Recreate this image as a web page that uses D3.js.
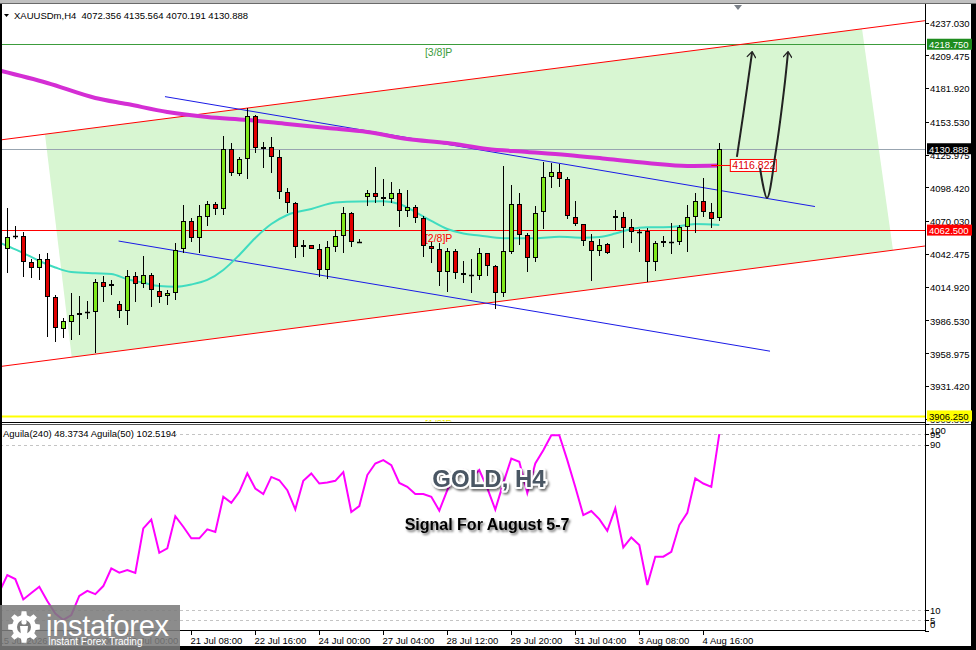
<!DOCTYPE html>
<html>
<head>
<meta charset="utf-8">
<title>XAUUSDm H4</title>
<script src="https://d3js.org/d3.v7.min.js"></script>
<style>
  body { margin: 0; background: #fff; }
  svg { display: block; }
  text { font-family: "Liberation Sans", Arial, sans-serif; }
</style>
</head>
<body>
<div id="chart"></div>
<script>
// ---- values ----
// H4 candles, oldest first
var opens = [4046.4, 4057.5, 4057.5, 4035.4, 4030.4, 4037.9, 4006.5, 3979.6, 3985.5, 3991.1,
  3992.8, 3993.7, 4018.6, 4015.5, 4000.4, 3994.7, 4023.7, 4017.2, 4024.5, 4011.1,
  4006.9, 4009.4, 4046.4, 4070.4, 4055.6, 4073.3, 4084.2, 4080.0, 4130.4, 4109.7,
  4122.0, 4158.4, 4130.9, 4132.6, 4123.7, 4094.3, 4085.0, 4048.0, 4049.7, 4046.4,
  4029.0, 4048.0, 4057.5, 4076.6, 4052.9, 4090.6, 4093.4, 4090.1, 4088.4, 4093.4,
  4078.6, 4082.2, 4072.4, 4049.1, 4046.9, 4027.5, 4045.2, 4026.2, 4024.5, 4024.0,
  4043.0, 4032.3, 4009.4, 4044.3, 4084.4, 4058.1, 4038.8, 4077.5, 4106.9, 4111.6,
  4105.2, 4073.8, 4067.4, 4053.3, 4044.9, 4050.6, 4072.4, 4073.8, 4064.8, 4061.2,
  4061.7, 4035.4, 4051.4, 4052.8, 4052.2, 4064.8, 4073.8, 4087.0, 4077.9, 4072.356];
var highs = [4080.8, 4066.0, 4060.7, 4038.2, 4042.4, 4043.0, 4007.9, 3988.6, 4009.4, 4007.1,
  4002.9, 4021.4, 4023.9, 4020.6, 4002.9, 4029.0, 4027.5, 4040.7, 4026.4, 4018.0,
  4012.1, 4051.4, 4083.6, 4072.4, 4083.6, 4087.0, 4086.4, 4141.6, 4135.5, 4123.9,
  4165.2, 4159.3, 4136.8, 4140.5, 4129.8, 4098.2, 4086.4, 4054.2, 4050.0, 4050.6,
  4053.3, 4062.6, 4081.7, 4077.9, 4054.8, 4096.2, 4115.3, 4105.2, 4103.2, 4096.8,
  4096.2, 4083.6, 4074.4, 4052.8, 4051.4, 4047.2, 4046.4, 4036.8, 4037.9, 4047.2,
  4043.5, 4033.2, 4116.4, 4100.4, 4093.4, 4059.8, 4082.8, 4120.0, 4119.2, 4118.1,
  4107.4, 4087.0, 4067.6, 4059.2, 4055.3, 4051.4, 4079.4, 4077.9, 4071.6, 4063.2,
  4064.0, 4053.3, 4057.5, 4068.7, 4066.8, 4083.6, 4093.4, 4106.0, 4085.0, 4135.564];
var lows = [4026.2, 4054.8, 4023.3, 4022.0, 4020.6, 3972.9, 3968.7, 3971.5, 3970.1, 3974.3,
  3987.5, 3958.9, 4002.3, 4007.9, 3988.4, 3982.7, 4001.8, 4014.1, 3997.6, 4001.0,
  3999.5, 4003.7, 4043.0, 4052.8, 4043.5, 4066.0, 4075.2, 4075.2, 4108.0, 4108.0,
  4105.2, 4127.6, 4115.0, 4110.8, 4088.6, 4076.6, 4039.3, 4040.1, 4046.2, 4022.8,
  4021.1, 4044.3, 4043.5, 4048.5, 4051.4, 4082.8, 4085.0, 4082.8, 4085.5, 4064.9,
  4073.3, 4068.7, 4039.6, 4034.6, 4015.8, 4010.7, 4021.1, 4018.3, 4009.4, 4020.6,
  4024.0, 3995.9, 4006.5, 4042.4, 4050.0, 4027.5, 4035.9, 4063.2, 4097.6, 4098.5,
  4071.6, 4066.0, 4049.1, 4020.0, 4040.7, 4042.4, 4062.6, 4047.2, 4051.9, 4044.3,
  4019.1, 4028.4, 4048.5, 4042.4, 4050.0, 4044.3, 4060.3, 4073.3, 4064.5, 4070.191];
var closes = [4057.0, 4056.7, 4035.4, 4030.4, 4037.9, 4006.5, 3979.9, 3986.1, 3991.1, 3993.1,
  3993.7, 4018.6, 4014.9, 4017.2, 3994.7, 4023.7, 4016.9, 4024.5, 4011.9, 4006.5,
  4009.6, 4045.8, 4070.4, 4055.6, 4074.1, 4084.2, 4080.0, 4130.4, 4110.3, 4122.0,
  4158.4, 4131.3, 4132.6, 4123.7, 4094.8, 4085.0, 4048.0, 4049.7, 4046.4, 4029.0,
  4048.0, 4057.5, 4076.6, 4052.8, 4052.5, 4093.4, 4090.1, 4088.4, 4093.4, 4078.6,
  4082.2, 4072.4, 4049.1, 4046.4, 4027.5, 4045.2, 4026.2, 4024.5, 4024.3, 4043.5,
  4032.3, 4009.4, 4044.9, 4084.4, 4058.1, 4038.8, 4076.6, 4107.4, 4111.1, 4105.2,
  4074.4, 4067.4, 4053.3, 4045.2, 4050.2, 4043.0, 4074.4, 4064.0, 4060.7, 4061.0,
  4035.4, 4051.4, 4053.1, 4052.9, 4064.8, 4073.8, 4087.0, 4077.9, 4071.6, 4130.888];

// slow moving average (thick magenta), read at these bars
var slowMaBars = [-1, 5, 11, 15, 20, 25, 30, 35, 40, 45, 50, 55, 60, 65, 70, 75, 80, 85, 89];
var slowMaVals = [4196.7, 4186.2, 4173.6, 4168.5, 4161.8, 4157.6, 4155.1, 4151.7, 4148.3, 4145.0,
  4139.1, 4135.7, 4130.7, 4128.2, 4125.6, 4122.3, 4118.9, 4116.4, 4116.8];
// fast moving average (turquoise)
var fastMaBars = [-1, 0, 2, 4, 6, 8, 11, 13, 15, 17, 19, 21, 23, 25, 27, 29, 31, 33, 35, 38,
  41, 44, 47, 49, 51, 53, 55, 57, 59, 62, 66, 69, 72, 74, 76, 78, 80, 83, 85, 86, 89];
var fastMaVals = [4052.1, 4049.1, 4043.2, 4036.5, 4031.1, 4027.3, 4026.2, 4025.6, 4021.1, 4018.3,
  4015.5, 4014.9, 4016.8, 4020.6, 4029.0, 4041.6, 4055.9, 4067.6, 4075.2, 4080.2,
  4085.7, 4086.6, 4086.7, 4084.4, 4077.7, 4070.2, 4063.4, 4059.6, 4058.0, 4055.6,
  4055.6, 4056.9, 4056.1, 4056.7, 4059.6, 4063.4, 4064.8, 4065.1, 4066.8, 4067.6, 4066.8];

// Aguila oscillator, one value per bar starting one bar left of the first candle
var aguilaStart = -1;
var aguilaVals = [18.7, 26.9, 25.0, 15.1, 18.2, 21.3, 14.4, 8.3, 5.2, 7.6,
  16.8, 19.3, 17.7, 21.6, 30.1, 28.1, 29.3, 28.0, 49.5, 53.8,
  37.7, 39.8, 55.4, 50.3, 44.7, 44.7, 49.0, 47.8, 64.8, 61.9,
  67.2, 76.1, 68.8, 66.1, 74.4, 72.8, 68.0, 58.7, 72.5, 76.1,
  71.2, 71.7, 72.5, 76.7, 57.4, 60.3, 75.3, 80.9, 82.5, 80.1,
  71.5, 69.6, 66.1, 66.1, 64.8, 58.1, 68.0, 75.7, 77.7, 73.8,
  77.7, 69.0, 58.6, 71.4, 83.3, 81.7, 66.6, 80.9, 87.3, 94.6,
  94.6, 82.5, 69.5, 55.9, 57.9, 54.0, 48.3, 59.2, 40.3, 45.1,
  41.4, 22.1, 35.8, 35.8, 38.2, 51.1, 57.0, 73.7, 71.2, 69.6, 95.1];

var priceTicks = [4237.030, 4209.475, 4181.920, 4153.530, 4125.975, 4098.420, 4070.030,
  4042.475, 4014.920, 3986.530, 3958.975, 3931.420, 3903.865];
var indTicks = [100, 95, 90, 10, 5, 0];
var indLevels = [95, 90, 10, 5];

var timeLabels = ["15 Jul 2026", "16 Jul 16:00", "20 Jul 00:00", "21 Jul 08:00", "22 Jul 16:00",
  "24 Jul 00:00", "27 Jul 04:00", "28 Jul 12:00", "29 Jul 20:00", "31 Jul 04:00",
  "3 Aug 08:00", "4 Aug 16:00"];
var timeBars = [-1, 7, 15, 23, 31, 39, 47, 55, 63, 71, 79, 87];

// horizontal levels: Murrey 3/8, last price, Murrey 2/8, Murrey 1/8
var levelPrices = [4218.750, 4130.888, 4062.500, 3906.250];
var levelNames = ["[3/8]P", "", "[2/8]P", "[1/8]P"];
var maLastValue = 4116.822;

// hand drawn objects as [bar, price]
var redUpper = [[-0.91, 4138.25], [114.7, 4238.55]];
var redLower = [[-0.91, 3947.8], [114.7, 4049.1]];
var blueUpper = [[19.71, 4174.7], [100.96, 4082.3]];
var blueLower = [[13.91, 4053.3], [95.34, 3960.7]];
var channelZone = [[4.71, 4143.1], [106.84, 4231.7], [110.71, 4045.7], [8.05, 3955.7]];
var arrowOne = [[91.2, 4124.0], [92.0, 4160.0], [93.1, 4212.2]];
var arrowTwo = [[94.09, 4114.7], [94.96, 4089.5], [96.09, 4129.8], [97.09, 4180.3], [97.59, 4212.2]];

var header = "XAUUSDm,H4  4072.356 4135.564 4070.191 4130.888";
var indHeader = "Aguila(240) 48.3734  Aguila(50) 102.5194";

// ---- styles ----
var levelStyle = [
  { line: "#3c9c3c", box: "#1e8c1e", text: "#fff", w: 1 },
  { line: "#98a4b0", box: "#000", text: "#fff", w: 1 },
  { line: "#ff0000", box: "#ff0000", text: "#fff", w: 1 },
  { line: "#ffff00", box: "#ffff00", text: "#000", w: 2 }
];
var bullColor = "#80e81c";
var bearColor = "#e00000";

var svgWidth = 976;
var svgHeight = 650;
var plotRight = 925;
var mainTop = 4, mainBottom = 421.5;
var indTop = 424, indBottom = 630.7;

var svg = d3.select("#chart")
  .append("svg")
  .attr("width", svgWidth)
  .attr("height", svgHeight);

var defs = svg.append("defs");
defs.append("clipPath").attr("id", "clipMain")
  .append("rect").attr("x", 0).attr("y", mainTop).attr("width", plotRight).attr("height", mainBottom - mainTop);
defs.append("clipPath").attr("id", "clipInd")
  .append("rect").attr("x", 0).attr("y", indTop).attr("width", plotRight).attr("height", indBottom - indTop);
defs.append("filter").attr("id", "shadow")
  .attr("x", "-20%").attr("y", "-30%").attr("width", "140%").attr("height", "170%")
  .append("feDropShadow")
  .attr("dx", 1.5).attr("dy", 2).attr("stdDeviation", 1.3)
  .attr("flood-color", "#000").attr("flood-opacity", 0.55);
defs.append("marker").attr("id", "arrowHead")
  .attr("viewBox", "0 0 10 10").attr("refX", 8.5).attr("refY", 5)
  .attr("markerWidth", 5).attr("markerHeight", 5).attr("orient", "auto")
  .append("path").attr("d", "M3,0.5 L9,5 L3,9.5")
  .attr("fill", "none").attr("stroke", "#222").attr("stroke-width", 1.3);

// scales
var x = d3.scaleLinear().domain([0, 89]).range([7.3, 719.3]);
var y = d3.scaleLinear().domain([3931.42, 4237.03]).range([386, 22.5]);
var yInd = d3.scaleLinear().domain([0, 100]).range([indBottom, indTop]);

var bp = d3.line().x(function(d) { return x(d[0]); }).y(function(d) { return y(d[1]); });

// ---- main price panel ----
var main = svg.append("g").attr("clip-path", "url(#clipMain)");

main.append("path")
  .attr("d", bp(channelZone) + "Z")
  .attr("fill", "#d8f6d2");

// horizontal levels
levelPrices.forEach(function(p, i) {
  var yy = Math.round(y(p)) + 0.5;
  main.append("line")
    .attr("x1", 0).attr("x2", plotRight)
    .attr("y1", yy).attr("y2", yy)
    .attr("stroke", levelStyle[i].line)
    .attr("stroke-width", levelStyle[i].w);
  if (levelNames[i]) {
    main.append("text")
      .attr("x", x(52.2)).attr("y", yy + 11)
      .attr("font-size", 10.5)
      .attr("fill", levelStyle[i].line === "#ffff00" ? "#e8e800" : levelStyle[i].line)
      .text(levelNames[i]);
  }
});

// channel lines
[[redUpper, "#ff0000"], [redLower, "#ff0000"], [blueUpper, "#1a1ae6"], [blueLower, "#1a1ae6"]]
  .forEach(function(t) {
    main.append("path").attr("d", bp(t[0]))
      .attr("fill", "none").attr("stroke", t[1]).attr("stroke-width", 1);
  });

// moving averages
var maLine = d3.line()
  .x(function(d) { return x(d[0]); })
  .y(function(d) { return y(d[1]); })
  .curve(d3.curveMonotoneX);

main.append("path")
  .attr("d", maLine(d3.zip(slowMaBars, slowMaVals)))
  .attr("fill", "none").attr("stroke", "#d42ed4").attr("stroke-width", 4);
main.append("path")
  .attr("d", maLine(d3.zip(fastMaBars, fastMaVals)))
  .attr("fill", "none").attr("stroke", "#40dcc0").attr("stroke-width", 2);

// candles
var bars = opens.map(function(o, i) {
  return { i: i, o: o, h: highs[i], l: lows[i], c: closes[i] };
});
var candles = main.append("g").selectAll("g").data(bars).enter().append("g");

candles.append("line")
  .attr("x1", function(d) { return Math.round(x(d.i)) + 0.5; })
  .attr("x2", function(d) { return Math.round(x(d.i)) + 0.5; })
  .attr("y1", function(d) { return Math.round(y(d.h)); })
  .attr("y2", function(d) { return Math.round(y(d.l)); })
  .attr("stroke", "#000");

candles.each(function(d) {
  var g = d3.select(this);
  var cx = Math.round(x(d.i)) + 0.5;
  var top = Math.round(y(Math.max(d.o, d.c)));
  var bot = Math.round(y(Math.min(d.o, d.c)));
  if (bot - top < 2) {
    g.append("line")
      .attr("x1", cx - 2.5).attr("x2", cx + 2.5)
      .attr("y1", top + 0.5).attr("y2", top + 0.5)
      .attr("stroke", "#000").attr("stroke-width", 1.5);
  } else {
    g.append("rect")
      .attr("x", cx - 2).attr("width", 4)
      .attr("y", top + 0.5).attr("height", bot - top - 1)
      .attr("fill", d.c >= d.o ? bullColor : bearColor)
      .attr("stroke", "#000");
  }
});

// last value of the slow average
var maY = y(maLastValue);
main.append("line")
  .attr("x1", x(89) - 8).attr("x2", x(89) + 11)
  .attr("y1", maY).attr("y2", maY)
  .attr("stroke", "#ff0000");
main.append("rect")
  .attr("x", x(89) + 11).attr("y", maY - 6).attr("width", 46).attr("height", 12)
  .attr("fill", "#fff").attr("stroke", "#ff0000");
main.append("text")
  .attr("x", x(89) + 13).attr("y", maY + 4)
  .attr("font-size", 10.5).attr("fill", "#e00000")
  .text(maLastValue.toFixed(3));

// forecast arrows
var arrowLine = d3.line()
  .x(function(d) { return x(d[0]); })
  .y(function(d) { return y(d[1]); })
  .curve(d3.curveCatmullRom.alpha(0.5));
[arrowOne, arrowTwo].forEach(function(a) {
  main.append("path").attr("d", arrowLine(a))
    .attr("fill", "none").attr("stroke", "#222").attr("stroke-width", 2)
    .attr("marker-end", "url(#arrowHead)");
});

// ---- indicator panel ----
var ind = svg.append("g").attr("clip-path", "url(#clipInd)");
indLevels.forEach(function(v) {
  ind.append("line")
    .attr("x1", 0).attr("x2", plotRight)
    .attr("y1", Math.round(yInd(v)) + 0.5).attr("y2", Math.round(yInd(v)) + 0.5)
    .attr("stroke", "#c4c4c4").attr("stroke-dasharray", "3,3");
});
ind.append("path")
  .attr("d", d3.line()
    .x(function(d, i) { return x(aguilaStart + i); })
    .y(function(d) { return yInd(d); })(aguilaVals))
  .attr("fill", "none").attr("stroke", "#ff00ff").attr("stroke-width", 2);

ind.append("rect").attr("x", 0).attr("y", 427).attr("width", 176).attr("height", 12).attr("fill", "#fff");
ind.append("text").attr("x", 3).attr("y", 437).attr("font-size", 9.5).attr("fill", "#000").text(indHeader);

// ---- frame, axes and labels ----
svg.append("rect").attr("x", 0).attr("y", 0).attr("width", svgWidth).attr("height", 3).attr("fill", "#c0c0c0");
svg.append("line").attr("x1", 0).attr("x2", svgWidth).attr("y1", 3.5).attr("y2", 3.5).attr("stroke", "#6a6a6a");
svg.append("line").attr("x1", plotRight + 0.5).attr("x2", plotRight + 0.5).attr("y1", 4).attr("y2", indBottom)
  .attr("stroke", "#000");
svg.append("line").attr("x1", 0).attr("x2", plotRight).attr("y1", 422.5).attr("y2", 422.5).attr("stroke", "#000");
svg.append("line").attr("x1", 0).attr("x2", 972).attr("y1", 424.5).attr("y2", 424.5).attr("stroke", "#555");
svg.append("line").attr("x1", 0).attr("x2", plotRight + 1).attr("y1", 630.5).attr("y2", 630.5).attr("stroke", "#000");
svg.append("rect").attr("x", 0).attr("y", 4).attr("width", 2).attr("height", svgHeight).attr("fill", "#000");
svg.append("rect").attr("x", 971).attr("y", 4).attr("width", 5).attr("height", svgHeight).attr("fill", "#000");
svg.append("rect").attr("x", 0).attr("y", 646).attr("width", svgWidth).attr("height", 4).attr("fill", "#000");

// header
svg.append("path").attr("d", "M4,14 L9,14 L6.5,17 Z").attr("fill", "#000");
svg.append("text").attr("x", 14).attr("y", 18.5).attr("font-size", 9.5).attr("fill", "#000")
  .attr("xml:space", "preserve").text(header);
svg.append("path").attr("d", "M734,5 L742,5 L738,10 Z").attr("fill", "#7a8088");

// price axis
var axisG = svg.append("g");
priceTicks.forEach(function(p) {
  var yy = Math.round(y(p)) + 0.5;
  axisG.append("line").attr("x1", plotRight).attr("x2", plotRight + 4).attr("y1", yy).attr("y2", yy).attr("stroke", "#000");
  axisG.append("text").attr("x", 930).attr("y", y(p) + 4.3).attr("font-size", 9.5).attr("fill", "#000").text(p.toFixed(3));
});
levelPrices.forEach(function(p, i) {
  var yy = y(p);
  axisG.append("rect").attr("x", 927).attr("y", yy - 5.5).attr("width", 45).attr("height", 11)
    .attr("fill", levelStyle[i].box);
  axisG.append("text").attr("x", 929).attr("y", yy + 3.8).attr("font-size", 9.5)
    .attr("fill", levelStyle[i].text).text(p.toFixed(3));
});

// indicator axis
indTicks.forEach(function(v) {
  var yy = Math.max(430.5, Math.min(624.5, yInd(v)));
  svg.append("line").attr("x1", plotRight).attr("x2", plotRight + 4)
    .attr("y1", Math.round(yInd(v)) + 0.5).attr("y2", Math.round(yInd(v)) + 0.5).attr("stroke", "#000");
  svg.append("text").attr("x", 930).attr("y", yy + 3.5).attr("font-size", 9.5).attr("fill", "#000").text(v);
});

// time axis
timeBars.forEach(function(b, i) {
  var xx = Math.round(x(b)) + 0.5;
  svg.append("line").attr("x1", xx).attr("x2", xx).attr("y1", 630).attr("y2", 635).attr("stroke", "#000");
  svg.append("text").attr("x", xx - 1).attr("y", 643.5).attr("font-size", 9.5).attr("fill", "#000")
    .text(timeLabels[i]);
});

// ---- titles ----
svg.append("text")
  .attr("x", 489).attr("y", 487)
  .attr("text-anchor", "middle")
  .attr("font-size", 24).attr("font-weight", "bold")
  .attr("fill", "#4a5663")
  .attr("stroke", "#fff").attr("stroke-width", 4).attr("paint-order", "stroke")
  .attr("stroke-linejoin", "round")
  .attr("filter", "url(#shadow)")
  .text("GOLD, H4");
svg.append("text")
  .attr("x", 487).attr("y", 530)
  .attr("text-anchor", "middle")
  .attr("font-size", 16).attr("font-weight", "bold")
  .attr("fill", "#000")
  .attr("filter", "url(#shadow)")
  .text("Signal For August 5-7");

// ---- logo ----
var logo = svg.append("g");
logo.append("rect").attr("x", 0).attr("y", 605).attr("width", 180).attr("height", 45)
  .attr("fill", "#7c7c7c").attr("opacity", 0.88);

function gearPath(cx, cy, rOut, rIn, n) {
  var pts = [];
  for (var k = 0; k < n; k++) {
    var a = k * 2 * Math.PI / n;
    var s = Math.PI / n;
    pts.push([a - s * 0.62, rIn], [a - s * 0.38, rOut], [a + s * 0.38, rOut], [a + s * 0.62, rIn]);
  }
  return "M" + pts.map(function(p) {
    return [cx + p[1] * Math.cos(p[0]), cy + p[1] * Math.sin(p[0])].join(",");
  }).join("L") + "Z";
}
logo.append("path").attr("d", gearPath(24, 627, 16, 12, 8)).attr("fill", "#fff");
logo.append("circle").attr("cx", 24).attr("cy", 627).attr("r", 7).attr("fill", "#7c7c7c");
logo.append("circle").attr("cx", 24).attr("cy", 622).attr("r", 2.6).attr("fill", "#fff");
logo.append("path").attr("d", "M20,626 L28,626 L26.5,640 L21.5,640 Z").attr("fill", "#fff");
logo.append("text").attr("x", 46).attr("y", 636).attr("font-size", 29)
  .attr("fill", "#fff").attr("letter-spacing", -0.3).text("instaforex");
logo.append("text").attr("x", 48).attr("y", 645).attr("font-size", 10)
  .attr("fill", "#fff").text("Instant Forex Trading");
</script>
</body>
</html>
